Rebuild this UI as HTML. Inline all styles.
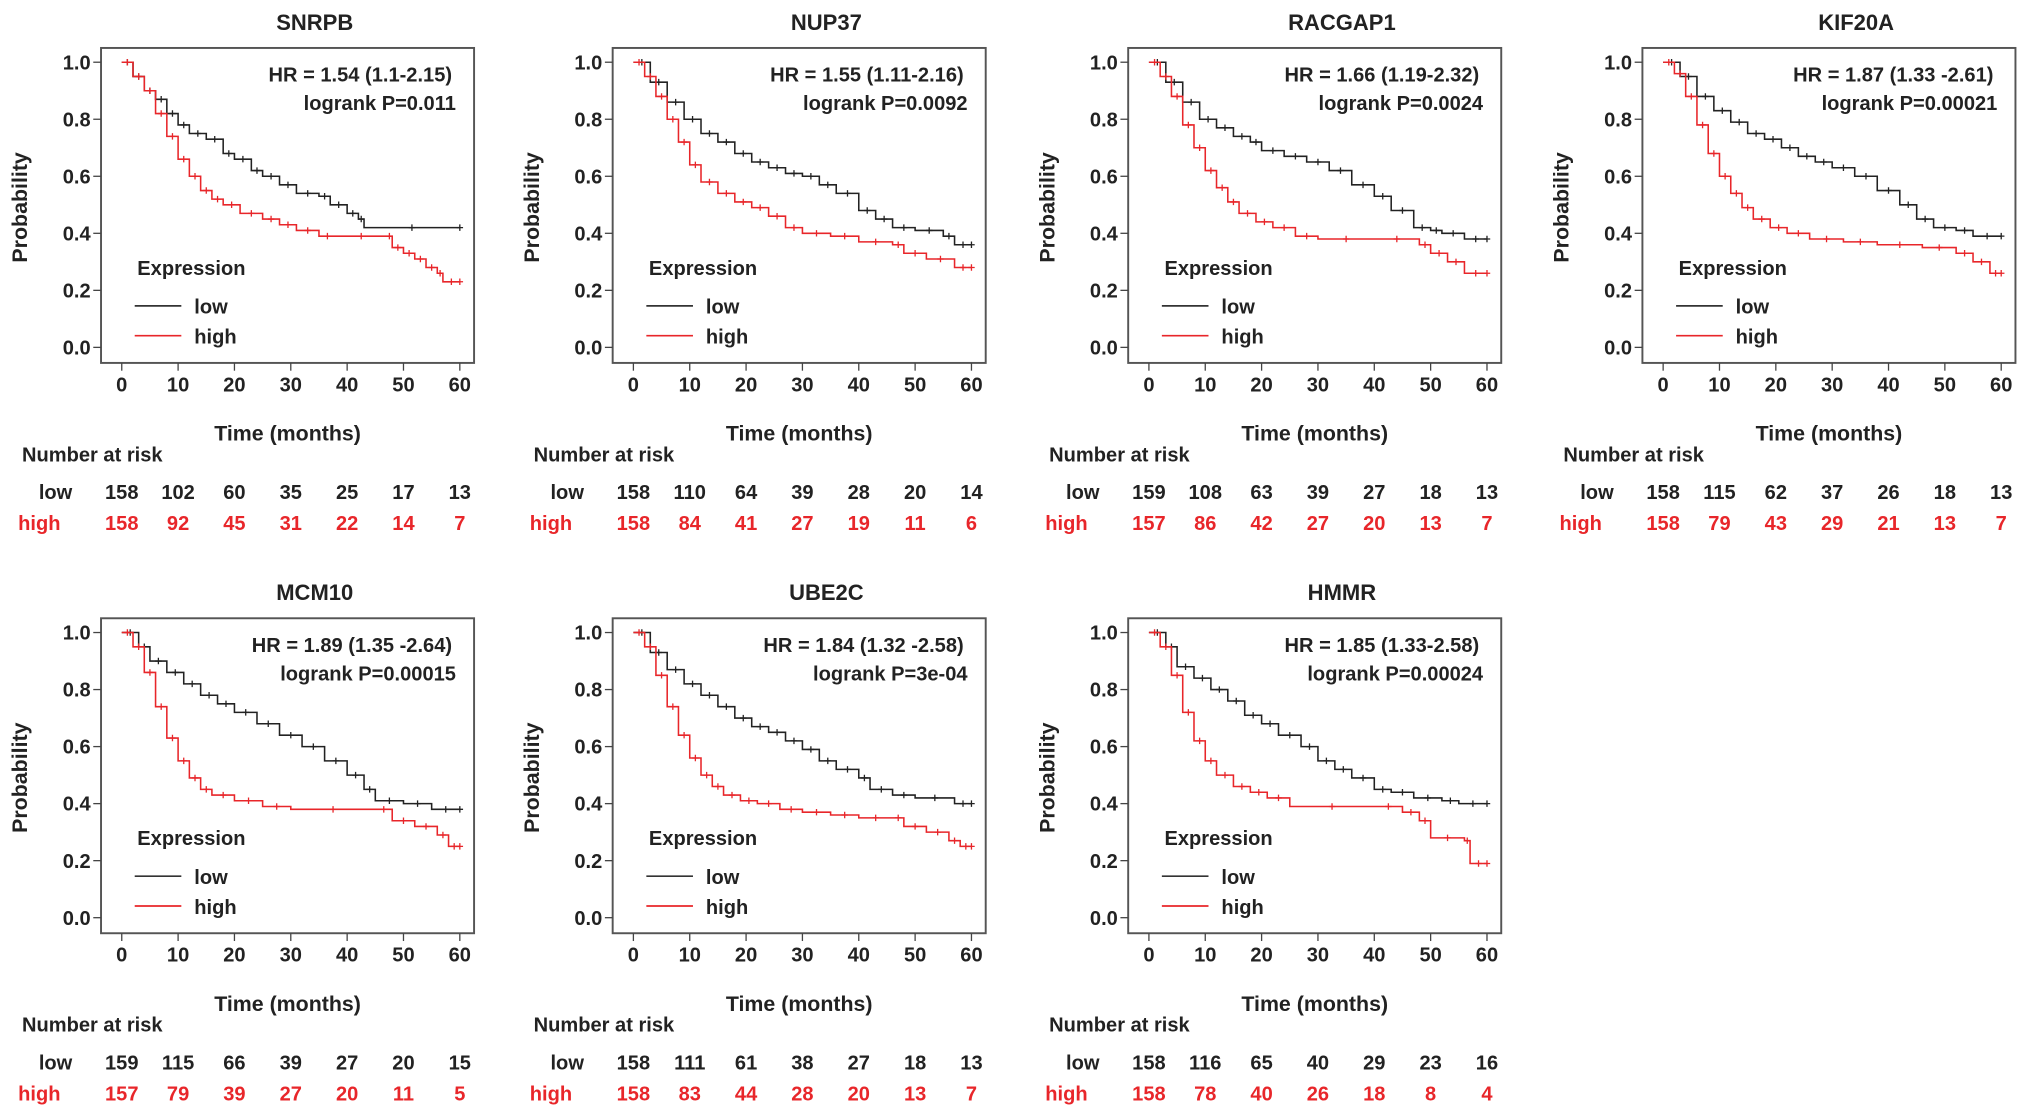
<!DOCTYPE html>
<html><head><meta charset="utf-8"><style>
html,body{margin:0;padding:0;background:#fff;}
svg{display:block;font-family:"Liberation Sans",Arial,sans-serif;font-weight:bold;}
</style></head><body>
<svg id="fig" width="2031" height="1116" viewBox="0 0 1568 861" preserveAspectRatio="none" xmlns="http://www.w3.org/2000/svg"></svg>
<script>
const genes = ["SNRPB","NUP37","RACGAP1","KIF20A","MCM10","UBE2C","HMMR"];
const hrTexts = ["HR = 1.54 (1.1-2.15)","HR = 1.55 (1.11-2.16)","HR = 1.66 (1.19-2.32)","HR = 1.87 (1.33 -2.61)","HR = 1.89 (1.35 -2.64)","HR = 1.84 (1.32 -2.58)","HR = 1.85 (1.33-2.58)"];
const pTexts = ["logrank P=0.011","logrank P=0.0092","logrank P=0.0024","logrank P=0.00021","logrank P=0.00015","logrank P=3e-04","logrank P=0.00024"];
const xTicks = [0,10,20,30,40,50,60];
const yTicks = [0,0.2,0.4,0.6,0.8,1.0];
const riskLow = [[158,102,60,35,25,17,13],[158,110,64,39,28,20,14],[159,108,63,39,27,18,13],[158,115,62,37,26,18,13],[159,115,66,39,27,20,15],[158,111,61,38,27,18,13],[158,116,65,40,29,23,16]];
const riskHigh = [[158,92,45,31,22,14,7],[158,84,41,27,19,11,6],[157,86,42,27,20,13,7],[158,79,43,29,21,13,7],[157,79,39,27,20,11,5],[158,83,44,28,20,13,7],[158,78,40,26,18,8,4]];
const lowTimes = [
[0,2,4,6,8,10,12,15,18,20,23,25,28,31,35,37,40,42,43,60],
[0,3,6,9,12,15,18,21,24,27,30,33,36,40,43,46,50,55,57,60],
[0,3,6,9,12,15,18,20,24,28,32,36,40,43,47,50,52,56,60],
[0,3,6,9,12,15,18,21,24,27,30,34,38,42,45,48,52,55,60],
[0,3,5,8,11,14,17,20,24,28,32,36,40,43,45,50,55,60],
[0,3,6,9,12,15,18,21,24,27,30,33,36,40,42,46,50,57,60],
[0,3,5,8,11,14,17,20,23,27,30,33,36,40,43,47,52,55,60]];
const lowSurv = [
[1,.95,.9,.87,.82,.78,.75,.73,.68,.66,.62,.6,.57,.54,.53,.5,.47,.45,.42,.42],
[1,.93,.86,.8,.75,.72,.68,.65,.63,.61,.6,.57,.54,.48,.45,.42,.41,.39,.36,.36],
[1,.93,.86,.8,.77,.74,.72,.69,.67,.65,.62,.57,.53,.48,.42,.41,.4,.38,.38],
[1,.95,.88,.83,.79,.75,.73,.7,.67,.65,.63,.6,.55,.5,.45,.42,.41,.39,.39],
[1,.95,.9,.86,.82,.78,.75,.72,.68,.64,.6,.55,.5,.45,.41,.4,.38,.38],
[1,.93,.87,.82,.78,.74,.7,.67,.65,.62,.59,.55,.52,.49,.45,.43,.42,.4,.4],
[1,.95,.88,.84,.8,.76,.71,.68,.64,.6,.55,.52,.49,.45,.44,.42,.41,.4,.4]];
const highTimes = [
[0,2,4,6,8,10,12,14,16,18,21,25,28,31,35,38,47,48,50,52,54,56,57,60],
[0,2,4,6,8,10,12,15,18,21,24,27,30,35,40,46,48,52,57,60],
[0,2,4,6,8,10,12,14,16,19,22,26,30,40,48,50,53,56,60],
[0,2,4,6,8,10,12,14,16,19,22,26,32,38,46,52,55,58,60],
[0,2,4,6,8,10,12,14,16,20,25,30,45,48,52,56,58,60],
[0,2,4,6,8,10,12,14,16,19,22,26,30,35,40,46,48,52,56,58,60],
[0,2,4,6,8,10,12,15,18,21,25,40,45,48,50,56,57,60]];
const highSurv = [
[1,.95,.9,.82,.74,.66,.6,.55,.52,.5,.47,.45,.43,.41,.39,.39,.39,.35,.33,.31,.28,.26,.23,.23],
[1,.95,.88,.8,.72,.64,.58,.54,.51,.49,.46,.42,.4,.39,.37,.36,.33,.31,.28,.28],
[1,.95,.88,.78,.7,.62,.56,.51,.47,.44,.42,.39,.38,.38,.36,.33,.3,.26,.26],
[1,.96,.88,.78,.68,.6,.54,.49,.45,.42,.4,.38,.37,.36,.35,.33,.3,.26,.26],
[1,.95,.86,.74,.63,.55,.49,.45,.43,.41,.39,.38,.38,.34,.32,.29,.25,.25],
[1,.95,.85,.74,.64,.56,.5,.46,.43,.41,.4,.38,.37,.36,.35,.35,.32,.3,.27,.25,.25],
[1,.95,.85,.72,.62,.55,.5,.46,.44,.42,.39,.39,.37,.34,.28,.27,.19,.19]];

const NS="http://www.w3.org/2000/svg";
const svg=document.getElementById('fig');
function mk(tag,attrs,parent,text){const e=document.createElementNS(NS,tag);for(const k in attrs)e.setAttribute(k,attrs[k]);if(text!==undefined)e.textContent=text;parent.appendChild(e);return e;}
const colOff=[0,395,793,1190], rowOff=[0,440];
genes.forEach((g,i)=>{
  const ox=colOff[i%4], oy=rowOff[Math.floor(i/4)];
  const grp=mk('g',{transform:`translate(${ox},${oy})`},svg);
  
  
  const xs=t=>94+t*(261/60), ys=p=>268-p*220;
  const t=mk('text',{x:243,y:23,'text-anchor':'middle','font-size':17,fill:'#222'},grp,g);
  
  
  const box=mk('rect',{x:78,y:37,width:288,height:243,fill:'none',stroke:'#555','stroke-width':1.5},grp);
  
  
  yTicks.forEach(v=>{
    mk('line',{x1:72,x2:78,y1:ys(v),y2:ys(v),stroke:'#444'},grp);
    const l=mk('text',{x:70,y:ys(v)+5.5,'text-anchor':'end','font-size':15.5,fill:'#222'},grp,v.toFixed(1));
    
    
  });
  xTicks.forEach((v,k)=>{
    mk('line',{x1:xs(v),x2:xs(v),y1:280,y2:286,stroke:'#444'},grp);
    const l=mk('text',{x:xs(v),y:302,'text-anchor':'middle','font-size':15.5,fill:'#222'},grp,String(v));
    
    
    const a=mk('text',{x:xs(v),y:385,'text-anchor':'middle','font-size':15.5,fill:'#222'},grp,String(riskLow[i][k]));
    
    
    const b=mk('text',{x:xs(v),y:409,'text-anchor':'middle','font-size':15.5,fill:'#e8262a'},grp,String(riskHigh[i][k]));
    
    
  });
  const yl=mk('text',{x:0,y:0,transform:'translate(21,160) rotate(-90)','text-anchor':'middle','font-size':16.5,fill:'#222'},grp,'Probability');
  
  
  const xl=mk('text',{x:222,y:340,'text-anchor':'middle','font-size':16.5,fill:'#222'},grp,'Time (months)');
  
  
  const nr=mk('text',{x:17,y:356,'font-size':15.5,fill:'#222'},grp,'Number at risk');
  
  
  const rl=mk('text',{x:30,y:385,'font-size':15.5,fill:'#222'},grp,'low');
  
  
  const rh=mk('text',{x:14,y:409,'font-size':15.5,fill:'#e8262a'},grp,'high');
  
  
  const h1=mk('text',{x:349,y:63,'text-anchor':'end','font-size':15.5,fill:'#222'},grp,hrTexts[i]);
  
  
  const h2=mk('text',{x:352,y:85,'text-anchor':'end','font-size':15.5,fill:'#222'},grp,pTexts[i]);
  
  
  const le=mk('text',{x:106,y:212,'font-size':15.5,fill:'#222'},grp,'Expression');
  
  
  mk('line',{x1:104,x2:140,y1:236,y2:236,stroke:'#333','stroke-width':1.3},grp);
  const ll=mk('text',{x:150,y:242,'font-size':15.5,fill:'#222'},grp,'low');
  
  
  mk('line',{x1:104,x2:140,y1:259,y2:259,stroke:'#e8262a','stroke-width':1.3},grp);
  const lh=mk('text',{x:150,y:265,'font-size':15.5,fill:'#222'},grp,'high');
  
  
  [[lowTimes[i],lowSurv[i],'#222','low'],[highTimes[i],highSurv[i],'#e8262a','high']].forEach(([T,S,c,nm])=>{
    let d=`M${xs(T[0])},${ys(S[0])}`;
    for(let k=1;k<T.length;k++){d+=` H${xs(T[k])} V${ys(S[k])}`;}
    const p=mk('path',{d:d,fill:'none',stroke:c,'stroke-width':1.2},grp);
    
    
    for(let k=0;k<T.length;k++){
      const cx=xs((T[k]+(T[k+1]!==undefined?T[k+1]:T[k]))/2), cy=ys(S[k]);
      mk('path',{d:`M${cx-2.5},${cy}H${cx+2.5}M${cx},${cy-2.5}V${cy+2.5}`,stroke:c,'stroke-width':1},grp);
    }
  });
});
</script>
</body></html>
